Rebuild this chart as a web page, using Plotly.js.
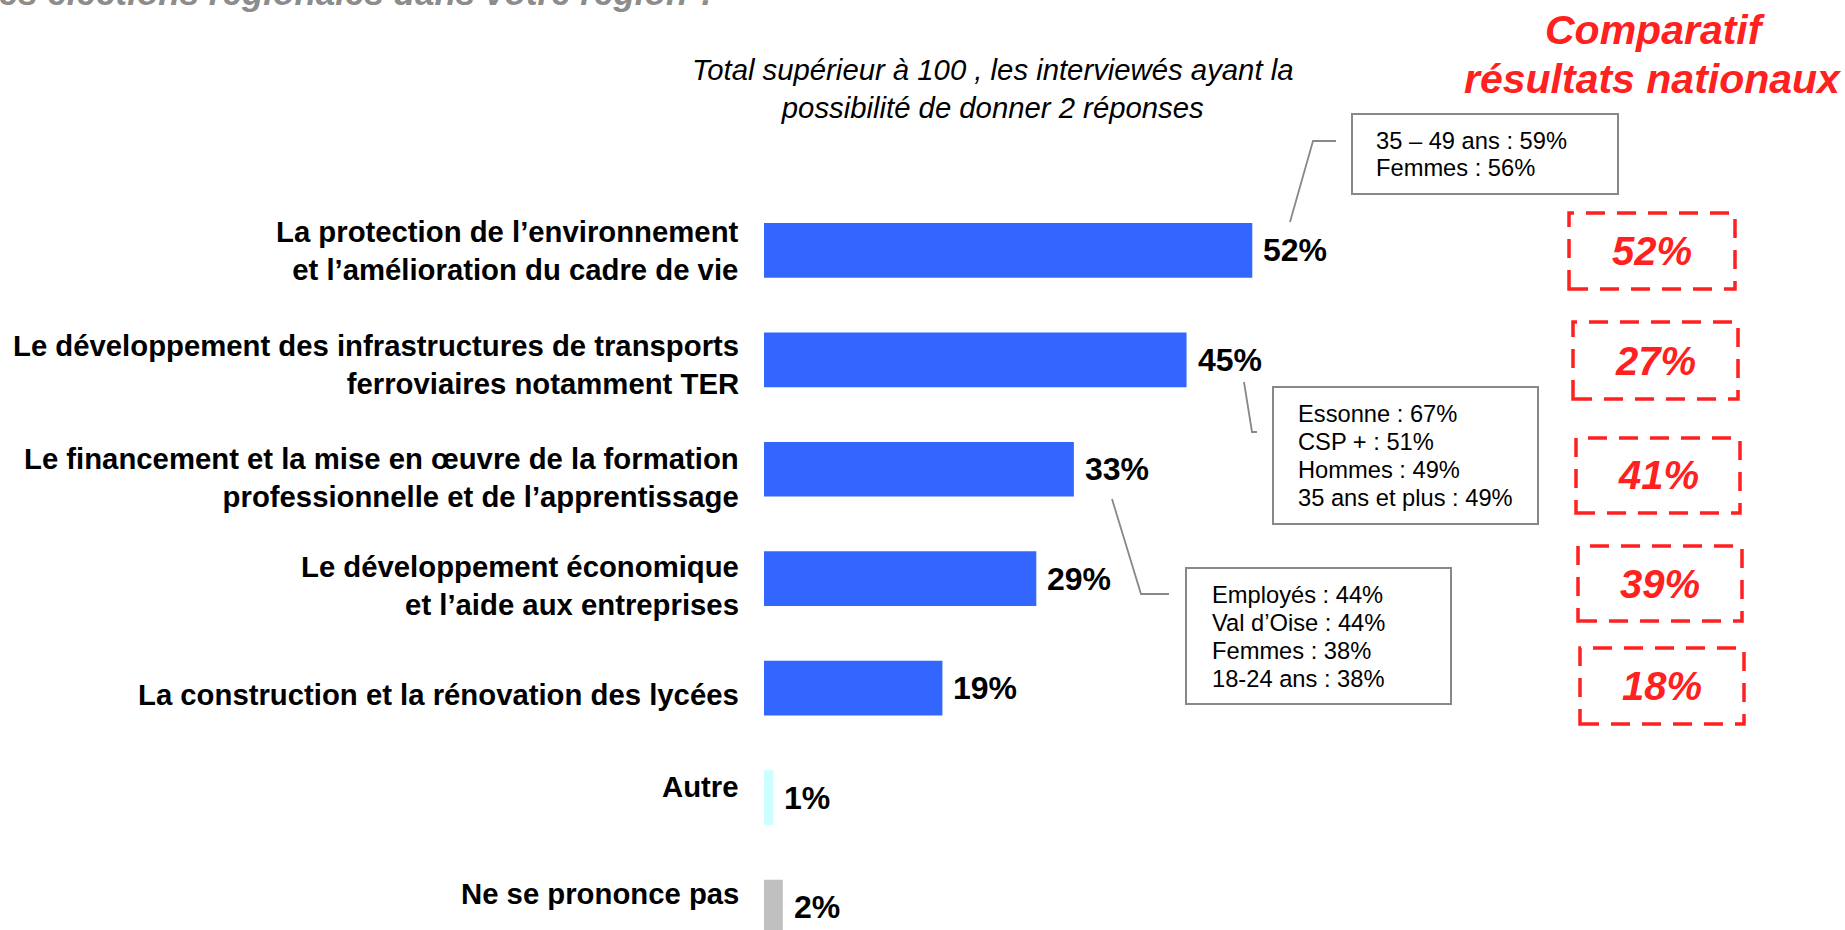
<!DOCTYPE html>
<html>
<head>
<meta charset="utf-8">
<script src="https://cdn.plot.ly/plotly-3.0.1.min.js"></script>
<style>html,body{margin:0;padding:0;background:#fff;}#chart{width:1845px;height:930px;}</style>
</head>
<body>
<div id="chart"></div>
<script>
// ---- data ----
const categories = [
  "La protection de l’environnement<br>et l’amélioration du cadre de vie",
  "Le développement des infrastructures de transports<br>ferroviaires notamment TER",
  "Le financement et la mise en œuvre de la formation<br>professionnelle et de l’apprentissage",
  "Le développement économique<br>et l’aide aux entreprises",
  "La construction et la rénovation des lycées",
  "Autre",
  "Ne se prononce pas"
];
const values = [52, 45, 33, 29, 19, 1, 2];
const barColors = ["#3366FF", "#3366FF", "#3366FF", "#3366FF", "#3366FF", "#CCFFFF", "#C0C0C0"];
const nationalValues = [52, 27, 41, 39, 18];
const calloutA = ["35 – 49 ans : 59%", "Femmes : 56%"];
const calloutB = ["Essonne : 67%", "CSP + : 51%", "Hommes : 49%", "35 ans et plus : 49%"];
const calloutC = ["Employés : 44%", "Val d’Oise : 44%", "Femmes : 38%", "18-24 ans : 38%"];
const subtitleText = "Total supérieur à 100 , les interviewés ayant la<br>possibilité de donner 2 réponses";
const nationalTitle = ["Comparatif", "résultats nationaux"];
const topQuestion = "les élections régionales dans votre région ?";

// ---- layout geometry (pixels) ----
const W = 1845, H = 930, ML = 764, MR = 0, MT = 150, MB = 0;
const PW = W - ML - MR, PH = H - MT - MB;
const fx = p => (p - ML) / PW;
const fy = p => (H - MB - p) / PH;
const FONT = "Liberation Sans, Arial, Helvetica, sans-serif";
const RED = "#FF2020";
const GREYLINE = "#888888";
const labelShift = [0, -5, -8, -7, -6, 11, 14]; // vertical nudges of category labels (px, + = up)

const shapes = [];
const annotations = [];

// category labels and value labels
categories.forEach((c, i) => {
  annotations.push({
    x: fx(741), y: c, xref: "paper", yref: "y",
    text: c, showarrow: false, xanchor: "right", yanchor: "middle", align: "right",
    yshift: labelShift[i],
    font: {family: FONT, size: 29.3, color: "#000", weight: "bold"}
  });
  annotations.push({
    x: values[i], y: c, xref: "x", yref: "y",
    text: values[i] + "%", showarrow: false, xanchor: "left", yanchor: "middle", xshift: 9,
    font: {family: FONT, size: 32, color: "#000", weight: "bold"}
  });
});

// national comparison dashed boxes
const natBoxes = [[1569, 1735, 213, 289], [1573, 1738, 322, 399], [1576, 1740, 438, 513], [1578, 1742, 546, 621], [1580, 1744, 648, 724]];
nationalValues.forEach((v, i) => {
  const b = natBoxes[i];
  shapes.push({type: "rect", xref: "paper", yref: "paper",
    x0: fx(b[0]), x1: fx(b[1]), y0: fy(b[3]), y1: fy(b[2]),
    line: {color: RED, width: 3.5, dash: "19px,12px"}, fillcolor: "rgba(0,0,0,0)"});
  annotations.push({x: fx((b[0] + b[1]) / 2), y: fy((b[2] + b[3]) / 2), xref: "paper", yref: "paper",
    text: v + "%", showarrow: false, xanchor: "center", yanchor: "middle",
    font: {family: FONT, size: 40, color: RED, weight: "bold", style: "italic"}});
});

// callout boxes
function callout(box, textX, lines, lineY, path) {
  shapes.push({type: "rect", xref: "paper", yref: "paper",
    x0: fx(box[0]), x1: fx(box[1]), y0: fy(box[3]), y1: fy(box[2]),
    line: {color: GREYLINE, width: 2}, fillcolor: "rgba(0,0,0,0)"});
  shapes.push({type: "path", xref: "paper", yref: "paper",
    path: path.map((p, k) => (k ? "L" : "M") + fx(p[0]) + "," + fy(p[1])).join(" "),
    line: {color: GREYLINE, width: 1.8}});
  lines.forEach((t, k) => {
    annotations.push({x: fx(textX), y: fy(lineY[k]), xref: "paper", yref: "paper",
      text: t, showarrow: false, xanchor: "left", yanchor: "middle", align: "left",
      font: {family: FONT, size: 23.7, color: "#000"}});
  });
}
callout([1352, 1618, 114, 194], 1374, calloutA, [141, 168], [[1290, 222], [1313, 141], [1336, 141]]);
callout([1273, 1538, 387, 524], 1296, calloutB, [414, 442, 470, 498], [[1244, 382], [1252, 432], [1257, 432]]);
callout([1186, 1451, 568, 704], 1210, calloutC, [595, 623, 651, 679], [[1112, 499], [1141, 594], [1169, 594]]);

// subtitle
annotations.push({x: fx(992), y: fy(88), xref: "paper", yref: "paper", text: subtitleText,
  showarrow: false, xanchor: "center", yanchor: "middle", align: "center",
  font: {family: FONT, size: 29.3, color: "#000", style: "italic"}});
// national title
[[nationalTitle[0], 1655, 30], [nationalTitle[1], 1653, 79]].forEach(t => {
  annotations.push({x: fx(t[1]), y: fy(t[2]), xref: "paper", yref: "paper", text: t[0],
    showarrow: false, xanchor: "center", yanchor: "middle",
    font: {family: FONT, size: 41, color: RED, weight: "bold", style: "italic"}});
});
// question, cut off by the top edge as in the source slide
annotations.push({x: fx(720), y: fy(-8), xref: "paper", yref: "paper", text: topQuestion,
  showarrow: false, xanchor: "right", yanchor: "middle",
  font: {family: FONT, size: 35, color: "#8C8C8C", weight: "bold", style: "italic"}});

const trace = {
  type: "bar", orientation: "h",
  x: values, y: categories,
  width: 0.5,
  marker: {color: barColors, line: {width: 0}},
  hoverinfo: "none"
};

const layout = {
  width: W, height: H,
  margin: {l: ML, r: MR, t: MT, b: MB, pad: 0},
  paper_bgcolor: "#fff", plot_bgcolor: "#fff",
  showlegend: false,
  xaxis: {range: [0, PW / 9.39], showgrid: false, zeroline: false, showline: false,
    showticklabels: false, ticks: "", fixedrange: true},
  yaxis: {type: "category", categoryarray: categories, categoryorder: "array",
    range: [6.21, -0.917], autorange: false, automargin: false,
    showgrid: false, zeroline: false, showline: false, ticks: "", showticklabels: false},
  shapes: shapes,
  annotations: annotations
};

Plotly.newPlot("chart", [trace], layout, {displayModeBar: false, staticPlot: true});
</script>
</body>
</html>
